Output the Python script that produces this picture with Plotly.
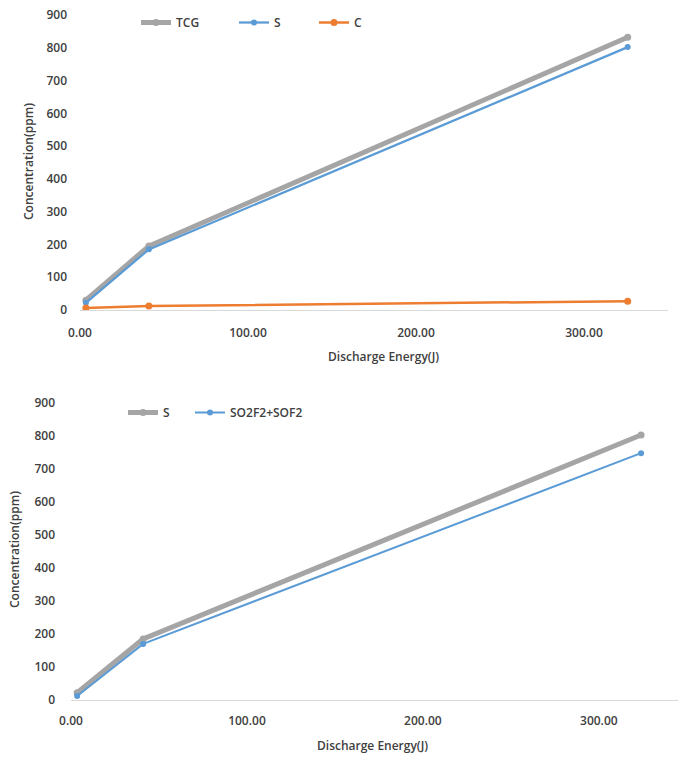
import plotly.graph_objects as go

# ---- data ----
energy = [3.5, 41.0, 326.0]
tcg_top = [30, 195, 832]
s_top = [22, 185, 802]
c_top = [6, 12, 27]

energy_b = [3.5, 41.0, 324.0]
s_bot = [22, 185, 803]
so2f2_sof2 = [12, 170, 748]

x_title = "Discharge Energy(J)"
y_title = "Concentration(ppm)"

W, H = 678, 761
GRAY = "#A5A5A5"
BLUE = "#5B9BD5"
ORANGE = "#ED7D31"
TXT = "#404040"
FONT = "Open Sans"

def px_x(p):
    return p / W

def px_y(p):
    return 1 - p / H

fig = go.Figure()

# top chart
fig.add_trace(go.Scatter(x=energy, y=tcg_top, name="TCG", mode="lines+markers",
                         line=dict(color=GRAY, width=5), marker=dict(color=GRAY, size=7),
                         xaxis="x", yaxis="y", legend="legend"))
fig.add_trace(go.Scatter(x=energy, y=s_top, name="S", mode="lines+markers",
                         line=dict(color=BLUE, width=2.25), marker=dict(color=BLUE, size=6),
                         xaxis="x", yaxis="y", legend="legend3"))
fig.add_trace(go.Scatter(x=energy, y=c_top, name="C", mode="lines+markers",
                         line=dict(color=ORANGE, width=2.5), marker=dict(color=ORANGE, size=7),
                         xaxis="x", yaxis="y", legend="legend4"))

# bottom chart
fig.add_trace(go.Scatter(x=energy_b, y=s_bot, name="S", mode="lines+markers",
                         line=dict(color=GRAY, width=5), marker=dict(color=GRAY, size=7),
                         xaxis="x2", yaxis="y2", legend="legend2"))
fig.add_trace(go.Scatter(x=energy_b, y=so2f2_sof2, name="SO2F2+SOF2", mode="lines+markers",
                         line=dict(color=BLUE, width=2), marker=dict(color=BLUE, size=6),
                         xaxis="x2", yaxis="y2", legend="legend5"))

tickfont = dict(family=FONT, size=12, color=TXT, weight=600)
legfont = dict(family=FONT, size=12, color=TXT, weight=600)

def leg(xp, yp):
    return dict(orientation="h", x=px_x(xp), y=px_y(yp), xanchor="left", yanchor="top",
                font=legfont, bgcolor="rgba(0,0,0,0)", itemwidth=30)

xcommon = dict(showgrid=False, zeroline=False, showline=False, ticks="",
               tickformat=".2f", dtick=100, tick0=0, tickfont=tickfont, fixedrange=True,
               automargin=False)
ycommon = dict(showgrid=False, zeroline=True, zerolinecolor="#D9D9D9", zerolinewidth=1,
               showline=False, ticks="", dtick=100, tickfont=tickfont, fixedrange=True,
               automargin=False)

fig.update_layout(
    width=W, height=H,
    margin=dict(l=0, r=0, t=0, b=0, pad=0, autoexpand=False),
    paper_bgcolor="white", plot_bgcolor="white",
    font=dict(family=FONT, color=TXT),
    xaxis=dict(domain=[px_x(80), px_x(668)], range=[0, 350], anchor="y",
               ticklabelstandoff=14, **xcommon),
    yaxis=dict(domain=[px_y(310), px_y(15)], range=[0, 900], anchor="x",
               ticklabelstandoff=12, **ycommon),
    xaxis2=dict(domain=[px_x(71), 1.0], range=[0, 345], anchor="y2",
                ticklabelstandoff=12, **xcommon),
    yaxis2=dict(domain=[px_y(700), px_y(403)], range=[0, 900], anchor="x2",
                ticklabelstandoff=15, **ycommon),
    legend=leg(136, 8),
    legend3=leg(234, 8),
    legend4=leg(314, 8),
    legend2=leg(123, 398),
    legend5=leg(190, 398),
    annotations=[
        dict(text=x_title, x=px_x(383), y=px_y(356), xref="paper", yref="paper",
             xanchor="center", yanchor="middle",
             showarrow=False, font=dict(family=FONT, size=12, color=TXT, weight=600)),
        dict(text=y_title, x=px_x(28), y=px_y(162), xref="paper", yref="paper",
             xanchor="center", yanchor="middle",
             showarrow=False, textangle=-90, font=dict(family=FONT, size=12, color=TXT, weight=600)),
        dict(text=x_title, x=px_x(372), y=px_y(745), xref="paper", yref="paper",
             xanchor="center", yanchor="middle",
             showarrow=False, font=dict(family=FONT, size=12, color=TXT, weight=600)),
        dict(text=y_title, x=px_x(14), y=px_y(550), xref="paper", yref="paper",
             xanchor="center", yanchor="middle",
             showarrow=False, textangle=-90, font=dict(family=FONT, size=12, color=TXT, weight=600)),
    ],
    showlegend=True,
)

fig.write_html("out.html")
